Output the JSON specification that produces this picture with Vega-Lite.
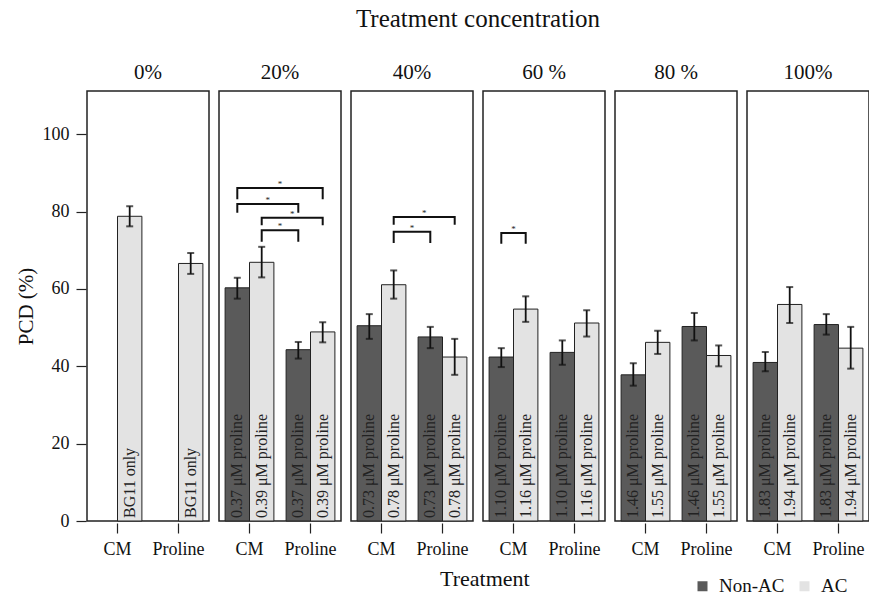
{
  "$schema": "https://vega.github.io/schema/vega-lite/v6.json",
  "padding": {"left": 15, "top": 7, "right": 0, "bottom": 0},
  "data": {"values": [
    {"k": "bar", "c": "0%", "t": "CM", "g": "AC", "v": 78.8, "lo": 76.2, "hi": 81.4, "lab": "BG11  only"},
    {"k": "bar", "c": "0%", "t": "Proline", "g": "AC", "v": 66.6, "lo": 63.9, "hi": 69.3, "lab": "BG11  only"},
    {"k": "bar", "c": "20%", "t": "CM", "g": "Non-AC", "v": 60.3, "lo": 57.5, "hi": 62.9, "lab": "0.37 μM proline"},
    {"k": "bar", "c": "20%", "t": "CM", "g": "AC", "v": 66.9, "lo": 63.0, "hi": 70.9, "lab": "0.39 μM proline"},
    {"k": "bar", "c": "20%", "t": "Proline", "g": "Non-AC", "v": 44.3, "lo": 42.0, "hi": 46.3, "lab": "0.37 μM proline"},
    {"k": "bar", "c": "20%", "t": "Proline", "g": "AC", "v": 48.9, "lo": 46.2, "hi": 51.4, "lab": "0.39 μM proline"},
    {"k": "bar", "c": "40%", "t": "CM", "g": "Non-AC", "v": 50.5, "lo": 47.1, "hi": 53.5, "lab": "0.73 μM proline"},
    {"k": "bar", "c": "40%", "t": "CM", "g": "AC", "v": 61.1, "lo": 57.5, "hi": 64.8, "lab": "0.78 μM proline"},
    {"k": "bar", "c": "40%", "t": "Proline", "g": "Non-AC", "v": 47.6, "lo": 44.7, "hi": 50.2, "lab": "0.73 μM proline"},
    {"k": "bar", "c": "40%", "t": "Proline", "g": "AC", "v": 42.4, "lo": 37.8, "hi": 47.1, "lab": "0.78 μM proline"},
    {"k": "bar", "c": "60 %", "t": "CM", "g": "Non-AC", "v": 42.4, "lo": 39.8, "hi": 44.7, "lab": "1.10 μM proline"},
    {"k": "bar", "c": "60 %", "t": "CM", "g": "AC", "v": 54.8, "lo": 51.5, "hi": 58.1, "lab": "1.16 μM proline"},
    {"k": "bar", "c": "60 %", "t": "Proline", "g": "Non-AC", "v": 43.6, "lo": 40.4, "hi": 46.7, "lab": "1.10 μM proline"},
    {"k": "bar", "c": "60 %", "t": "Proline", "g": "AC", "v": 51.2, "lo": 47.7, "hi": 54.5, "lab": "1.16 μM proline"},
    {"k": "bar", "c": "80 %", "t": "CM", "g": "Non-AC", "v": 37.8, "lo": 35.0, "hi": 40.8, "lab": "1.46 μM proline"},
    {"k": "bar", "c": "80 %", "t": "CM", "g": "AC", "v": 46.2, "lo": 43.2, "hi": 49.2, "lab": "1.55 μM proline"},
    {"k": "bar", "c": "80 %", "t": "Proline", "g": "Non-AC", "v": 50.3, "lo": 46.7, "hi": 53.8, "lab": "1.46 μM proline"},
    {"k": "bar", "c": "80 %", "t": "Proline", "g": "AC", "v": 42.8, "lo": 40.0, "hi": 45.4, "lab": "1.55 μM proline"},
    {"k": "bar", "c": "100%", "t": "CM", "g": "Non-AC", "v": 41.0, "lo": 38.7, "hi": 43.7, "lab": "1.83 μM proline"},
    {"k": "bar", "c": "100%", "t": "CM", "g": "AC", "v": 56.0, "lo": 51.2, "hi": 60.5, "lab": "1.94 μM proline"},
    {"k": "bar", "c": "100%", "t": "Proline", "g": "Non-AC", "v": 50.8, "lo": 48.2, "hi": 53.5, "lab": "1.83 μM proline"},
    {"k": "bar", "c": "100%", "t": "Proline", "g": "AC", "v": 44.7, "lo": 39.4, "hi": 50.2, "lab": "1.94 μM proline"},

    {"k": "br", "c": "20%", "id": "b1", "s": 1, "t": "CM", "g": "Non-AC", "v": 83.2},
    {"k": "br", "c": "20%", "id": "b1", "s": 2, "t": "CM", "g": "Non-AC", "v": 86.1},
    {"k": "br", "c": "20%", "id": "b1", "s": 3, "t": "Proline", "g": "AC", "v": 86.1},
    {"k": "br", "c": "20%", "id": "b1", "s": 4, "t": "Proline", "g": "AC", "v": 83.2},
    {"k": "br", "c": "20%", "id": "b2", "s": 1, "t": "CM", "g": "Non-AC", "v": 79.7},
    {"k": "br", "c": "20%", "id": "b2", "s": 2, "t": "CM", "g": "Non-AC", "v": 82.0},
    {"k": "br", "c": "20%", "id": "b2", "s": 3, "t": "Proline", "g": "Non-AC", "v": 82.0},
    {"k": "br", "c": "20%", "id": "b2", "s": 4, "t": "Proline", "g": "Non-AC", "v": 79.7},
    {"k": "br", "c": "20%", "id": "b3", "s": 1, "t": "CM", "g": "AC", "v": 76.5},
    {"k": "br", "c": "20%", "id": "b3", "s": 2, "t": "CM", "g": "AC", "v": 78.4},
    {"k": "br", "c": "20%", "id": "b3", "s": 3, "t": "Proline", "g": "AC", "v": 78.4},
    {"k": "br", "c": "20%", "id": "b3", "s": 4, "t": "Proline", "g": "AC", "v": 76.5},
    {"k": "br", "c": "20%", "id": "b4", "s": 1, "t": "CM", "g": "AC", "v": 72.2},
    {"k": "br", "c": "20%", "id": "b4", "s": 2, "t": "CM", "g": "AC", "v": 75.2},
    {"k": "br", "c": "20%", "id": "b4", "s": 3, "t": "Proline", "g": "Non-AC", "v": 75.2},
    {"k": "br", "c": "20%", "id": "b4", "s": 4, "t": "Proline", "g": "Non-AC", "v": 72.2},
    {"k": "br", "c": "40%", "id": "b5", "s": 1, "t": "CM", "g": "AC", "v": 76.6},
    {"k": "br", "c": "40%", "id": "b5", "s": 2, "t": "CM", "g": "AC", "v": 78.6},
    {"k": "br", "c": "40%", "id": "b5", "s": 3, "t": "Proline", "g": "AC", "v": 78.6},
    {"k": "br", "c": "40%", "id": "b5", "s": 4, "t": "Proline", "g": "AC", "v": 76.6},
    {"k": "br", "c": "40%", "id": "b6", "s": 1, "t": "CM", "g": "AC", "v": 71.9},
    {"k": "br", "c": "40%", "id": "b6", "s": 2, "t": "CM", "g": "AC", "v": 74.8},
    {"k": "br", "c": "40%", "id": "b6", "s": 3, "t": "Proline", "g": "Non-AC", "v": 74.8},
    {"k": "br", "c": "40%", "id": "b6", "s": 4, "t": "Proline", "g": "Non-AC", "v": 71.9},
    {"k": "br", "c": "60 %", "id": "b7", "s": 1, "t": "CM", "g": "Non-AC", "v": 71.7},
    {"k": "br", "c": "60 %", "id": "b7", "s": 2, "t": "CM", "g": "Non-AC", "v": 74.5},
    {"k": "br", "c": "60 %", "id": "b7", "s": 3, "t": "CM", "g": "AC", "v": 74.5},
    {"k": "br", "c": "60 %", "id": "b7", "s": 4, "t": "CM", "g": "AC", "v": 71.7},

    {"k": "star", "c": "20%", "sp": "wide", "t": "CM", "g": "Non-AC", "v": 86.1},
    {"k": "star", "c": "20%", "sp": "mid", "t": "CM", "g": "Non-AC", "v": 82.0},
    {"k": "star", "c": "20%", "sp": "mid", "t": "CM", "g": "AC", "v": 78.4},
    {"k": "star", "c": "20%", "sp": "short", "t": "CM", "g": "AC", "v": 75.2},
    {"k": "star", "c": "40%", "sp": "mid", "t": "CM", "g": "AC", "v": 78.6},
    {"k": "star", "c": "40%", "sp": "short", "t": "CM", "g": "AC", "v": 74.8},
    {"k": "star", "c": "60 %", "sp": "adj", "t": "CM", "g": "Non-AC", "v": 74.5}
  ]},
  "facet": {
    "column": {
      "field": "c", "type": "ordinal",
      "sort": ["0%", "20%", "40%", "60 %", "80 %", "100%"],
      "title": "Treatment  concentration",
      "header": {
        "titleFont": "Liberation Serif", "titleFontSize": 25, "titleFontWeight": "normal", "titleColor": "#111", "titlePadding": 19,
        "labelFont": "Liberation Serif", "labelFontSize": 21, "labelColor": "#111", "labelPadding": 7.5
      }
    }
  },
  "spacing": 8,
  "spec": {
    "width": 122,
    "height": 430,
    "layer": [
      {
        "transform": [{"filter": "datum.k === 'bar'"}],
        "mark": {"type": "bar", "stroke": "#222", "strokeWidth": 1},
        "encoding": {
          "x": {"field": "t", "type": "nominal", "title": null,
                "scale": {"paddingInner": 0.2, "paddingOuter": 0.1},
                "axis": {"labelAngle": 0, "domain": false, "tickSize": 10, "labelPadding": 7, "labelFontSize": 18}},
          "xOffset": {"field": "g", "type": "nominal", "scale": {"domain": ["Non-AC", "AC"], "paddingInner": 0, "paddingOuter": 0}},
          "y": {"field": "v", "type": "quantitative", "title": "PCD (%)",
                "scale": {"domain": [0, 111.2], "nice": false},
                "axis": {"values": [0, 20, 40, 60, 80, 100], "grid": false, "domain": false, "tickSize": 10, "labelPadding": 7, "titlePadding": 6, "labelFontSize": 18, "titleFontSize": 21}},
          "fill": {"field": "g", "type": "nominal", "title": null,
                   "scale": {"domain": ["Non-AC", "AC"], "range": ["#5a5a5a", "#e3e3e3"]},
                   "legend": {"orient": "none", "legendX": 606, "legendY": 485.5, "direction": "horizontal", "symbolType": "square", "symbolSize": 100, "symbolStrokeWidth": 0, "labelFont": "Liberation Serif", "labelFontSize": 19, "labelColor": "#111", "labelOffset": 7, "columnPadding": 10}}
        }
      },
      {
        "transform": [{"filter": "datum.k === 'bar'"}],
        "mark": {"type": "rule", "color": "#111", "strokeWidth": 1.8},
        "encoding": {
          "x": {"field": "t", "type": "nominal"},
          "xOffset": {"field": "g", "type": "nominal"},
          "y": {"field": "lo", "type": "quantitative"},
          "y2": {"field": "hi"}
        }
      },
      {
        "transform": [{"filter": "datum.k === 'bar'"}],
        "mark": {"type": "tick", "color": "#111", "size": 7, "thickness": 2},
        "encoding": {
          "x": {"field": "t", "type": "nominal"},
          "xOffset": {"field": "g", "type": "nominal"},
          "y": {"field": "lo", "type": "quantitative"}
        }
      },
      {
        "transform": [{"filter": "datum.k === 'bar'"}],
        "mark": {"type": "tick", "color": "#111", "size": 7, "thickness": 2},
        "encoding": {
          "x": {"field": "t", "type": "nominal"},
          "xOffset": {"field": "g", "type": "nominal"},
          "y": {"field": "hi", "type": "quantitative"}
        }
      },
      {
        "transform": [{"filter": "datum.k === 'bar'"}],
        "mark": {"type": "text", "angle": 270, "align": "left", "baseline": "middle", "dx": 3, "font": "Liberation Serif", "fontSize": 16, "color": "#222"},
        "encoding": {
          "x": {"field": "t", "type": "nominal"},
          "xOffset": {"field": "g", "type": "nominal"},
          "y": {"datum": 0},
          "text": {"field": "lab"}
        }
      },
      {
        "transform": [{"filter": "datum.k === 'br'"}],
        "mark": {"type": "line", "color": "#111", "strokeWidth": 2, "strokeCap": "butt"},
        "encoding": {
          "x": {"field": "t", "type": "nominal"},
          "xOffset": {"field": "g", "type": "nominal"},
          "y": {"field": "v", "type": "quantitative"},
          "detail": {"field": "id"},
          "order": {"field": "s", "type": "quantitative"}
        }
      },
      {
        "transform": [{"filter": "datum.k === 'star' && datum.sp === 'wide'"}],
        "mark": {"type": "text", "text": "*", "dx": 42.7, "dy": -4, "fontSize": 9, "font": "Liberation Serif", "color": "#222"},
        "encoding": {"x": {"field": "t", "type": "nominal"}, "xOffset": {"field": "g", "type": "nominal"}, "y": {"field": "v", "type": "quantitative"}}
      },
      {
        "transform": [{"filter": "datum.k === 'star' && datum.sp === 'mid'"}],
        "mark": {"type": "text", "text": "*", "dx": 30.5, "dy": -4, "fontSize": 9, "font": "Liberation Serif", "color": "#222"},
        "encoding": {"x": {"field": "t", "type": "nominal"}, "xOffset": {"field": "g", "type": "nominal"}, "y": {"field": "v", "type": "quantitative"}}
      },
      {
        "transform": [{"filter": "datum.k === 'star' && datum.sp === 'short'"}],
        "mark": {"type": "text", "text": "*", "dx": 18.3, "dy": -4, "fontSize": 9, "font": "Liberation Serif", "color": "#222"},
        "encoding": {"x": {"field": "t", "type": "nominal"}, "xOffset": {"field": "g", "type": "nominal"}, "y": {"field": "v", "type": "quantitative"}}
      },
      {
        "transform": [{"filter": "datum.k === 'star' && datum.sp === 'adj'"}],
        "mark": {"type": "text", "text": "*", "dx": 12.2, "dy": -4, "fontSize": 9, "font": "Liberation Serif", "color": "#222"},
        "encoding": {"x": {"field": "t", "type": "nominal"}, "xOffset": {"field": "g", "type": "nominal"}, "y": {"field": "v", "type": "quantitative"}}
      }
    ]
  },
  "title": {"text": "Treatment", "orient": "bottom", "anchor": "start", "frame": "bounds", "dx": 425, "dy": -35, "font": "Liberation Serif", "fontSize": 22, "fontWeight": "normal", "color": "#111", "offset": 7},
  "config": {
    "view": {"stroke": "#222", "strokeWidth": 1.5},
    "axis": {"labelFont": "Liberation Serif", "titleFont": "Liberation Serif", "labelFontSize": 18, "titleFontSize": 21, "titleFontWeight": "normal", "labelColor": "#111", "titleColor": "#111", "tickColor": "#222", "tickWidth": 1.2}
  }
}
